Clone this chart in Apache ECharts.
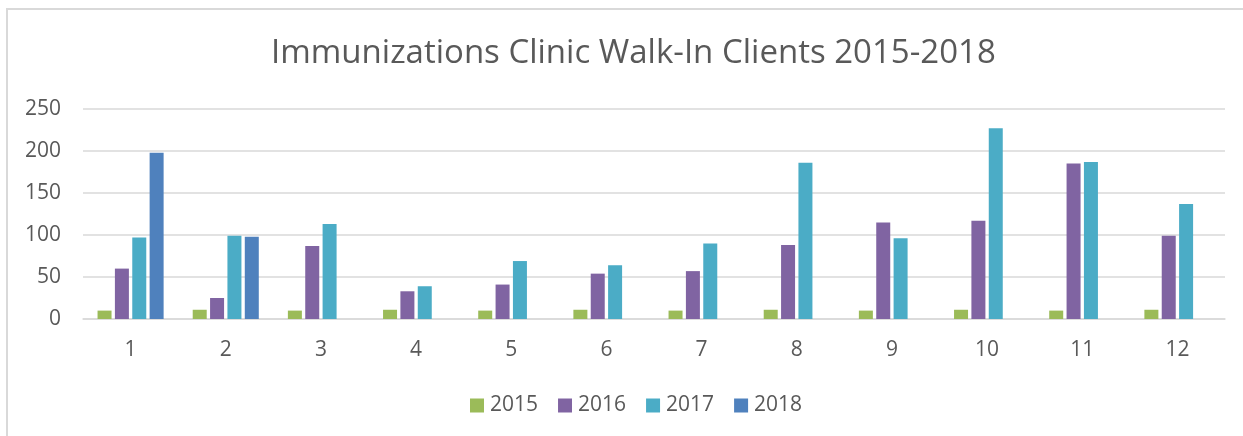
<!DOCTYPE html>
<html>
<head>
<meta charset="utf-8">
<script src="https://cdn.jsdelivr.net/npm/echarts@6/dist/echarts.min.js"></script>
<style>
  html, body { margin: 0; padding: 0; background: #fff; overflow: hidden; }
  .frame {
    position: absolute; left: 6px; top: 8px;
    width: 1400px; height: 600px;
    border: 2px solid #d9d9d9;
  }
  #chart { position: absolute; left: 0; top: 0; width: 1243px; height: 436px; }
</style>
</head>
<body>
<div class="frame"></div>
<div id="chart"></div>
<script>
// months 1..12
const categories = ['1', '2', '3', '4', '5', '6', '7', '8', '9', '10', '11', '12'];
const years = ['2015', '2016', '2017', '2018'];
const values2015 = [10, 11, 10, 11, 10, 11, 10, 11, 10, 11, 10, 11];
const values2016 = [60, 25, 87, 33, 41, 54, 57, 88, 115, 117, 185, 99];
const values2017 = [97, 99, 113, 39, 69, 64, 90, 186, 96, 227, 187, 137];
const values2018 = [198, 98, null, null, null, null, null, null, null, null, null, null];
const yTicks = [0, 50, 100, 150, 200, 250];

const colors = ['#9bbb59', '#8064a2', '#4bacc6', '#4f81bd'];
const seriesValues = [values2015, values2016, values2017, values2018];

const chart = echarts.init(document.getElementById('chart'));

const textColor = '#595959';
const font = '"Open Sans", sans-serif';

chart.setOption({
  animation: false,
  title: {
    text: 'Immunizations Clinic Walk-In Clients 2015-2018',
    left: 266,
    top: 32,
    textStyle: {
      fontFamily: font,
      fontWeight: 'normal',
      fontSize: 33,
      color: textColor
    }
  },
  legend: {
    data: years,
    left: 465,
    top: 390,
    itemWidth: 14,
    itemHeight: 14,
    itemGap: 20,
    icon: 'rect',
    textStyle: { fontFamily: font, fontSize: 21, color: textColor, padding: [0, 0, 0, 1] }
  },
  grid: {
    left: 83,
    right: 18,
    top: 109,
    bottom: 117
  },
  xAxis: {
    type: 'category',
    data: categories,
    axisTick: { show: false },
    axisLine: { lineStyle: { color: '#d9d9d9', width: 1.5 } },
    axisLabel: {
      margin: 21,
      fontFamily: font,
      fontSize: 21,
      color: textColor
    }
  },
  yAxis: {
    type: 'value',
    min: yTicks[0],
    max: yTicks[yTicks.length - 1],
    interval: 50,
    axisLine: { show: false },
    axisTick: { show: false },
    splitLine: { lineStyle: { color: '#d9d9d9', width: 1.5 } },
    axisLabel: {
      margin: 22,
      fontFamily: font,
      fontSize: 21,
      color: textColor
    }
  },
  series: years.map((name, i) => ({
    name: name,
    type: 'bar',
    barWidth: 14,
    barGap: '24%',
    data: seriesValues[i],
    itemStyle: { color: colors[i] }
  }))
});
</script>
</body>
</html>
